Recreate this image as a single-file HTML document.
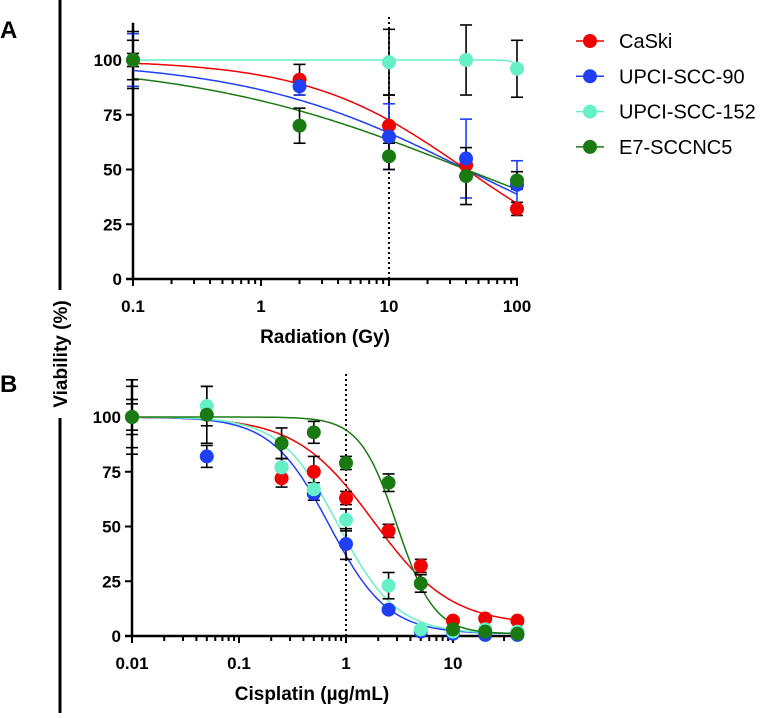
<!DOCTYPE html>
<html><head><meta charset="utf-8">
<style>
body{margin:0;background:#fff;width:760px;height:713px;overflow:hidden;font-family:"Liberation Sans",Arial,sans-serif}
svg text{font-family:"Liberation Sans",Arial,sans-serif}
</style></head><body>
<svg id="chart" width="760" height="713" viewBox="0 0 760 713" xmlns="http://www.w3.org/2000/svg">
<line x1="60" y1="0" x2="60" y2="290" stroke="#000" stroke-width="3"/>
<line x1="60" y1="418" x2="60" y2="713" stroke="#000" stroke-width="3"/>
<text x="0" y="0" transform="translate(67,354) rotate(-90)" text-anchor="middle" font-size="19" font-weight="bold">Viability (%)</text>
<text x="0" y="38" font-size="24" font-weight="bold">A</text>
<text x="0" y="392" font-size="24" font-weight="bold">B</text>
<g id="gA"></g><g id="gB"></g><g id="legend"></g>
</svg>
<script>
const colors=["#f00000","#1f3ff5","#66f0c8","#1a7a12"];
const seriesNames=["CaSki","UPCI-SCC-90","UPCI-SCC-152","E7-SCCNC5"];
// Panel A data
const doseA=[0.1,2,10,40,100];
const caskiA=[100,91,70,52,32];
const upci90A=[100,88,65,55,43];
const upci152A=[100,null,99,100,96];
const e7A=[100,70,56,47,45];
const errCaskiA=[3,7,14,4,3];
const errUpci90A=[12,4,15,18,11];
const errUpci152A=[13,0,15,16,13];
const errE7A=[9,8,6,13,4];
// fit params [top,bottom,ic50,hill]
const fitA=[[100,0,40,0.7],[100,0,40,0.5],[100,90,110,12],[100,0,40,0.4]];
// Panel B data
const doseB=[0.01,0.05,0.25,0.5,1,2.5,5,10,20,40];
const caskiB=[100,null,72,75,63,48,32,7,8,7];
const upci90B=[100,82,77,65,42,12,2,1,0.5,0.5];
const upci152B=[100,105,77,67,53,23,3,2,3,2];
const e7B=[100,101,88,93,79,70,24,3,2,1];
const errCaskiB=[17,0,4,7,3,3,3,1,1,1];
const errUpci90B=[14,5,4,3,7,1,1,1,1,1];
const errUpci152B=[8,9,4,3,5,6,1,1,1,1];
const errE7B=[6,13,7,5,3,4,4,1,1,1];
const fitB=[[100,5,1.8,1.2],[100,1,0.7,1.6],[100,1,0.85,1.6],[100,1,3,2.5]];
const tickY=[0,25,50,75,100];

const NS="http://www.w3.org/2000/svg";
function mk(p,t,a){const e=document.createElementNS(NS,t);for(const k in a)e.setAttribute(k,a[k]);p.appendChild(e);return e;}
function fit(p,x){return p[1]+(p[0]-p[1])/(1+Math.pow(x/p[2],p[3]));}

function panel(g,cfg){
  const sx=v=>cfg.x0+(Math.log10(v)-Math.log10(cfg.xmin))*cfg.dec;
  const sy=v=>cfg.y0-v*cfg.ky;
  const xEnd=sx(cfg.xmax);
  let dl=mk(g,'line',{x1:sx(cfg.vline),x2:sx(cfg.vline),y1:cfg.y0-262,y2:cfg.y0,stroke:'#000','stroke-width':2,'stroke-dasharray':'2,3'});
  
  
  let ya=mk(g,'line',{x1:cfg.x0,x2:cfg.x0,y1:sy(117),y2:cfg.y0,stroke:'#000','stroke-width':2.5});
  
  
  let xa=mk(g,'line',{x1:cfg.x0-7,x2:xEnd+1,y1:cfg.y0,y2:cfg.y0,stroke:'#000','stroke-width':2.5});
  
  
  tickY.forEach(v=>{
    mk(g,'line',{x1:cfg.x0-7,x2:cfg.x0,y1:sy(v),y2:sy(v),stroke:'#000','stroke-width':2});
    let t=mk(g,'text',{x:cfg.x0-11,y:sy(v)+6,'text-anchor':'end','font-size':17,'font-weight':'bold'});
    t.textContent=v;
    
    
  });
  for(let d=Math.log10(cfg.xmin);d<Math.log10(cfg.xmax);d++){
    for(let m=1;m<10;m++){
      const v=Math.pow(10,d)*m; if(v>cfg.xmax+1e-9)break;
      const L=m==1?7:5;
      mk(g,'line',{x1:sx(v),x2:sx(v),y1:cfg.y0,y2:cfg.y0+L,stroke:'#000','stroke-width':2});
    }
  }
  cfg.xticks.forEach((v,i)=>{
    mk(g,'line',{x1:sx(v),x2:sx(v),y1:cfg.y0,y2:cfg.y0+7,stroke:'#000','stroke-width':2});
    let t=mk(g,'text',{x:sx(v),y:cfg.y0+33,'text-anchor':'middle','font-size':17,'font-weight':'bold'});
    t.textContent=cfg.xlabels[i];
    
    
  });
  let xt=mk(g,'text',{x:cfg.titleX,y:cfg.y0+64,'text-anchor':'middle','font-size':19,'font-weight':'bold'});
  xt.textContent=cfg.title;
  
  
  cfg.fits.forEach((p,s)=>{
    let d='';const a=Math.log10(cfg.xmin),b=Math.log10(cfg.xmax);
    for(let i=0;i<=200;i++){const x=Math.pow(10,a+(b-a)*i/200);d+=(i?'L':'M')+sx(x).toFixed(1)+','+sy(fit(p,x)).toFixed(1);}
    let pa=mk(g,'path',{d:d,fill:'none',stroke:colors[s],'stroke-width':1.5});
    
    
  });
  cfg.data.forEach((arr,s)=>{
    arr.forEach((v,i)=>{
      if(v==null)return;
      const e=cfg.errs[s][i];const x=sx(cfg.dose[i]);
      if(e>0){
        const c=cfg.errColor[s];
        const eb=mk(g,'g',{stroke:c,'stroke-width':1.6});
        
        
        mk(eb,'line',{x1:x,x2:x,y1:sy(v-e),y2:sy(v+e)});
        mk(eb,'line',{x1:x-6,x2:x+6,y1:sy(v-e),y2:sy(v-e)});
        mk(eb,'line',{x1:x-6,x2:x+6,y1:sy(v+e),y2:sy(v+e)});
      }
    });
  });
  cfg.data.forEach((arr,s)=>{
    arr.forEach((v,i)=>{
      if(v==null)return;
      let c=mk(g,'circle',{cx:sx(cfg.dose[i]),cy:sy(v),r:7,fill:colors[s]});
      
      
    });
  });
}
panel(document.getElementById('gA'),{x0:133,y0:279,dec:128,ky:2.19,xmin:0.1,xmax:100,vline:10,
  xticks:[0.1,1,10,100],xlabels:["0.1","1","10","100"],title:"Radiation (Gy)",titleX:325,
  dose:doseA,data:[caskiA,upci90A,upci152A,e7A],errs:[errCaskiA,errUpci90A,errUpci152A,errE7A],
  errColor:['#000','#1f3ff5','#000','#000'],fits:fitA});
panel(document.getElementById('gB'),{x0:132,y0:636,dec:107,ky:2.19,xmin:0.01,xmax:40,vline:1,
  xticks:[0.01,0.1,1,10],xlabels:["0.01","0.1","1","10"],title:"Cisplatin (µg/mL)",titleX:312,
  dose:doseB,data:[caskiB,upci90B,upci152B,e7B],errs:[errCaskiB,errUpci90B,errUpci152B,errE7B],
  errColor:['#000','#000','#000','#000'],fits:fitB});
const lg=document.getElementById('legend');
seriesNames.forEach((n,i)=>{
  const y=41+i*35.3;
  const g=mk(lg,'g',{});
  
  
  mk(g,'line',{x1:576,x2:604,y1:y,y2:y,stroke:colors[i],'stroke-width':1.5});
  mk(g,'circle',{cx:590,cy:y,r:7,fill:colors[i]});
  const t=mk(g,'text',{x:619,y:y+7,'font-size':20});
  t.textContent=n;
});
</script>
</body></html>
